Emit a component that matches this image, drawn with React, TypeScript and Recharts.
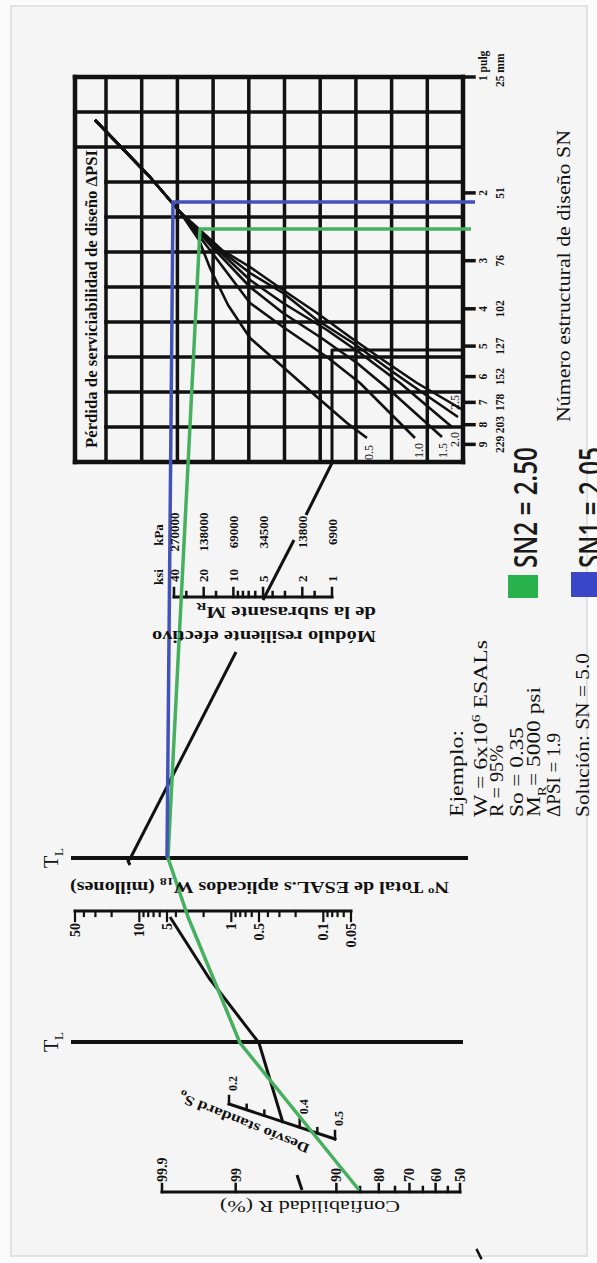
import React from "react";
import {
  ComposedChart,
  Line,
  ReferenceArea,
  ReferenceDot,
  ReferenceLine,
  XAxis,
  YAxis,
} from "recharts";

// The scan is the AASHTO nomograph turned on its side. It is drawn here in its own
// landscape orientation (sheet units) and the whole chart is turned -90deg at the end.
const SHEET_W = 1263;
const SHEET_H = 597;

// Structural number SN (log scale), inch and mm labels
const snTicks = [1, 2, 3, 4, 5, 6, 7, 8, 9];
const snInchLabels = ["1 pulg", "2", "3", "4", "5", "6", "7", "8", "9"];
const snMmLabels = ["25 mm", "51", "76", "102", "127", "152", "178", "203", "229"];

// Subgrade resilient modulus M_R in ksi (log scale)
const mrTicks = [40, 30, 20, 15, 10, 9, 8, 7, 6, 5, 4, 3, 2, 1.5, 1];
const mrKsiLabels = [40, 20, 10, 5, 2, 1];
const mrKpaLabels = ["270000", "138000", "69000", "34500", "13800", "6900"];

// W18 in millions of ESALs (log scale)
const w18Ticks = [
  50, 40, 30, 20, 10, 9, 8, 7, 6, 5, 4, 3, 2, 1, 0.9, 0.8, 0.7, 0.6, 0.5, 0.4, 0.3,
  0.2, 0.1, 0.09, 0.08, 0.07, 0.06, 0.05,
];
const w18Labels = [50, 10, 5, 1, 0.5, 0.1, 0.05];

// Reliability R (%) and its standard normal deviate
const rLabels = ["99.9", "99", "90", "80", "70", "60", "50"];
const rZ = [3.09, 2.326, 1.282, 0.842, 0.524, 0.253, 0];
const rMinorZ = [1.036, 0.674, 0.385, 0.126]; // 85, 75, 65, 55

// Overall standard deviation So
const soTicks = [0.2, 0.25, 0.3, 0.4, 0.45, 0.5];
const soLabels = [0.2, 0.4, 0.5];

// ΔPSI working grid (columns / rows)
const gridCols = [0, 1, 2, 3, 4, 5, 6, 7, 8, 9, 10, 11];
const gridRows = [0, 1, 2, 3, 4, 5, 6, 7, 8, 9, 10];
const titleRowCols = [0, 9, 10, 11];

// ΔPSI curves (sheet units)
const psiLabels = ["0.5", "1.0", "1.5", "2.0", "2.5", ""];
const psiCurves = [
  [[1143, 95], [1086, 150], [1051, 180], [1023, 199], [995, 210], [958, 228], [925, 250], [896, 283], [866, 317], [840, 347], [825, 367]],
  [[1143, 95], [1086, 150], [1051, 180], [1013, 210], [960, 250], [936, 283], [906, 327], [880, 360], [850, 390], [825, 415]],
  [[1143, 95], [1086, 150], [1051, 180], [1013, 215], [976, 250], [950, 283], [926, 320], [900, 357], [870, 393], [826, 442]],
  [[1143, 95], [1086, 150], [1051, 180], [1013, 218], [983, 250], [960, 283], [933, 327], [910, 360], [880, 400], [836, 452]],
  [[1143, 95], [1086, 150], [1051, 180], [1013, 220], [990, 250], [970, 283], [943, 317], [920, 353], [893, 390], [870, 423], [846, 458]],
  [[1143, 95], [1086, 150], [1051, 180], [1013, 222], [996, 250], [973, 283], [950, 317], [926, 350], [903, 383], [880, 417], [853, 463]],
];

// Solution paths (sheet units)
const routeSN1 = [[1061, 475], [1061, 173], [405, 167]];
const routeSN2 = [[1034, 471], [1034, 200], [405, 168], [346, 188], [220, 240], [73, 359]];
const exampleRoute = [
  [[73, 302], [88, 297]],
  [[140, 283], [220, 259], [285, 209], [346, 170]],
  [[406, 131], [402, 128], [398, 130]],
  [[406, 131], [611, 236]],
  [[663, 263], [723, 294]],
  [[748, 306], [800, 332], [913, 332], [913, 463]],
];

type Part = [string, ("sub" | "sup")?];
const exampleLines: Part[][] = [
  [["Ejemplo:"]],
  [["W = 6x10"], ["6", "sup"], ["  ESALs"]],
  [["R = 95%"]],
  [["So = 0.35"]],
  [["M"], ["R", "sub"], ["= 5000 psi"]],
  [["ΔPSI = 1.9"]],
  [["Solución: SN = 5.0"]],
];
const legendItems = ["SN2 = 2.50", "SN1 = 2.05"];

// ---- layout (sheet units) ----
const GRID_LEFT = 801;
const GRID_RIGHT = 1186;
const GRID_TITLE_TOP = 75;
const GRID_TOP = 106;
const GRID_BOTTOM = 463;
const COL_W = (GRID_RIGHT - GRID_LEFT) / 11;
const ROW_H = (GRID_BOTTOM - GRID_TOP) / 10;
const TITLE_ROW = -(GRID_TOP - GRID_TITLE_TOP) / ROW_H;
const SN_DECADE = GRID_RIGHT - GRID_LEFT;
const MR_X = 666;
const W18_X = 352;
const R_X = 71;
const TL_X = [405, 221];
const SO_A = { x: 159, y: 229 };
const SO_B = { x: 124, y: 335 };
const EX_X = 446;
const exampleBaselines = [463, 487, 503, 523, 540, 560, 589];
const exampleLengths = [87, 177, 72, 90, 130, 84, 164];
const legendBaselines = [537, 602];
const psiLabelOffsets = [[-22, 6], [-20, 8], [-21, 5], [-20, 7], [7, 1], [0, 0]];

const SERIF = '"Liberation Serif", "Times New Roman", serif';
const SANS = '"Open Sans", "Noto Sans", sans-serif';
const INK = "#111";
const BLUE = "#4352bb";
const GREEN = "#45b05d";

type Pt = { x: number; y: number };
const P = (x: number, y: number): Pt => ({ x, y });
const toPts = (arr: number[][]) => arr.map(([x, y]) => ({ x, y }));
const soPos = (v: number) => {
  const t = (v - 0.2) / 0.3;
  return P(SO_A.x + (SO_B.x - SO_A.x) * t, SO_A.y + (SO_B.y - SO_A.y) * t);
};

function seg(key: string, a: Pt, b: Pt, xAxisId = "px", yAxisId = "px", stroke = INK, width = 3) {
  return (
    <ReferenceLine
      key={key}
      xAxisId={xAxisId}
      yAxisId={yAxisId}
      segment={[a, b]}
      stroke={stroke}
      strokeWidth={width}
      strokeLinecap="square"
      ifOverflow="visible"
    />
  );
}

function poly(key: string, pts: number[][], stroke: string, width: number) {
  return (
    <Line
      key={key}
      xAxisId="px"
      yAxisId="px"
      data={toPts(pts)}
      dataKey="y"
      type="linear"
      stroke={stroke}
      strokeWidth={width}
      strokeLinejoin="round"
      dot={false}
      activeDot={false}
      legendType="none"
      isAnimationActive={false}
    />
  );
}

function note(
  key: string,
  at: Pt,
  draw: (x: number, y: number) => React.ReactElement,
  xAxisId = "px",
  yAxisId = "px"
) {
  return (
    <ReferenceDot
      key={key}
      x={at.x}
      y={at.y}
      r={0}
      xAxisId={xAxisId}
      yAxisId={yAxisId}
      ifOverflow="visible"
      shape={(p: any) => draw(p.cx, p.cy)}
    />
  );
}

function rich(parts: Part[], size: number) {
  let shift = 0;
  return parts.map(([t, kind], i) => {
    const target = kind === "sup" ? -0.4 * size : kind === "sub" ? 0.3 * size : 0;
    const dy = target - shift;
    shift = target;
    return (
      <tspan key={i} dy={dy} fontSize={kind ? size * 0.65 : size}>
        {t}
      </tspan>
    );
  });
}

const tick = { fontFamily: SERIF, fontWeight: 700, fill: INK } as const;

export default function App() {
  return (
    <div
      style={{
        position: "absolute",
        left: 0,
        top: 0,
        width: 597,
        height: 1263,
        background: "#fbfbfb",
        overflow: "hidden",
      }}
    >
      <div
        style={{
          position: "absolute",
          left: 10,
          top: 5,
          width: 578,
          height: 1252,
          boxSizing: "border-box",
          border: "2px solid #e2e2e2",
          background: "#f5f5f5",
        }}
      />
      <div
        style={{
          position: "absolute",
          left: 0,
          top: 0,
          width: SHEET_W,
          height: SHEET_H,
          transformOrigin: "0 0",
          transform: `translateY(${SHEET_W}px) rotate(-90deg)`,
        }}
      >
        <ComposedChart width={SHEET_W} height={SHEET_H} margin={{ top: 0, right: 0, bottom: 0, left: 0 }}>
          <XAxis xAxisId="px" type="number" dataKey="x" domain={[0, SHEET_W]} allowDataOverflow hide />
          <YAxis yAxisId="px" type="number" dataKey="y" domain={[0, SHEET_H]} reversed allowDataOverflow hide />
          {/* ΔPSI grid in column / row units */}
          <XAxis
            xAxisId="gx"
            type="number"
            dataKey="gx"
            domain={[-GRID_LEFT / COL_W, (SHEET_W - GRID_LEFT) / COL_W]}
            allowDataOverflow
            hide
          />
          <YAxis
            yAxisId="gy"
            type="number"
            dataKey="gy"
            domain={[-GRID_TOP / ROW_H, (SHEET_H - GRID_TOP) / ROW_H]}
            reversed
            allowDataOverflow
            hide
          />
          {/* SN: 1 at the grid's right border, 10 at its left border */}
          <XAxis
            xAxisId="sn"
            type="number"
            dataKey="sn"
            scale="log"
            domain={[Math.pow(10, -(SHEET_W - GRID_RIGHT) / SN_DECADE), Math.pow(10, GRID_RIGHT / SN_DECADE)]}
            reversed
            allowDataOverflow
            hide
          />
          <YAxis
            yAxisId="mr"
            type="number"
            dataKey="mr"
            scale="log"
            domain={[1, 40]}
            padding={{ top: 174, bottom: SHEET_H - 332 }}
            allowDataOverflow
            hide
          />
          <YAxis
            yAxisId="w18"
            type="number"
            dataKey="w18"
            scale="log"
            domain={[0.05, 50]}
            padding={{ top: 75, bottom: SHEET_H - 351 }}
            allowDataOverflow
            hide
          />
          <YAxis
            yAxisId="zr"
            type="number"
            dataKey="zr"
            domain={[0, 3.09]}
            padding={{ top: 162, bottom: SHEET_H - 460 }}
            allowDataOverflow
            hide
          />

          {/* ΔPSI grid */}
          {gridCols.map((c) =>
            seg(`gc${c}`, P(c, titleRowCols.includes(c) ? TITLE_ROW : 0), P(c, 10), "gx", "gy", INK, c === 0 || c === 11 ? 4.5 : 3.5)
          )}
          {[TITLE_ROW, ...gridRows].map((r, i) =>
            seg(`gr${i}`, P(0, r), P(11, r), "gx", "gy", INK, r === TITLE_ROW || r === 10 ? 4.5 : 3.5)
          )}

          {/* SN scale */}
          {snTicks.map((v, i) => seg(`snt${i}`, P(v, GRID_BOTTOM), P(v, GRID_BOTTOM + 11), "sn", "px", INK, 3.5))}
          {snTicks.map((v, i) =>
            note(
              `sni${i}`,
              P(v, 487),
              (x, y) => (
                <text x={i === 0 ? x - 4 : x} y={y} textAnchor={i === 0 ? "start" : "middle"} fontSize={11.5} {...tick}>
                  {snInchLabels[i]}
                </text>
              ),
              "sn",
              "px"
            )
          )}
          {snTicks.map((v, i) =>
            note(
              `snm${i}`,
              P(v, 504),
              (x, y) => (
                <text x={i === 0 ? x - 10 : x} y={y} textAnchor={i === 0 ? "start" : "middle"} fontSize={11.5} {...tick}>
                  {snMmLabels[i]}
                </text>
              ),
              "sn",
              "px"
            )
          )}

          {/* M_R scale */}
          {seg("mraxis", P(MR_X, 40), P(MR_X, 1), "px", "mr", INK, 3)}
          {mrTicks.map((v, i) =>
            seg(`mrt${i}`, P(MR_X, v), P(MR_X + (mrKsiLabels.includes(v) ? 9 : 5), v), "px", "mr", INK, 2.5)
          )}
          {mrKsiLabels.map((v, i) =>
            note(
              `mrk${i}`,
              P(681, v),
              (x, y) => (
                <text x={x} y={y + 4.5} textAnchor="start" fontSize={13} {...tick}>
                  {v}
                </text>
              ),
              "px",
              "mr"
            )
          )}
          {mrKpaLabels.map((t, i) =>
            note(
              `mrp${i}`,
              P(731, mrKsiLabels[i]),
              (x, y) => (
                <text x={x} y={y + 4.5} textAnchor="middle" fontSize={13} {...tick}>
                  {t}
                </text>
              ),
              "px",
              "mr"
            )
          )}
          {note("ksi", P(678, 163), (x, y) => (
            <text x={x} y={y} fontSize={13} {...tick}>ksi</text>
          ))}
          {note("kpa", P(728, 163), (x, y) => (
            <text x={x} y={y} textAnchor="middle" fontSize={13} {...tick}>kPa</text>
          ))}

          {/* W18 scale */}
          {seg("w18axis", P(W18_X, 50), P(W18_X, 0.05), "px", "w18", INK, 3)}
          {w18Ticks.map((v, i) =>
            seg(`w18t${i}`, P(W18_X, v), P(W18_X - (w18Labels.includes(v) ? 10 : 5), v), "px", "w18", INK, 2.2)
          )}
          {w18Labels.map((v, i) =>
            note(
              `w18l${i}`,
              P(340, v),
              (x, y) => (
                <text x={x} y={y + 5} textAnchor="end" fontSize={14} {...tick}>
                  {v}
                </text>
              ),
              "px",
              "w18"
            )
          )}

          {/* T_L turning lines */}
          {TL_X.map((x, i) => seg(`tl${i}`, P(x, 73), P(x, i === 0 ? 466 : 461), "px", "px", INK, 4))}
          {TL_X.map((x, i) =>
            note(`tll${i}`, P(x, 58), (cx, cy) => (
              <text x={cx} y={cy} textAnchor="middle" fontFamily={SERIF} fontSize={20} fill={INK}>
                T<tspan fontSize={13} dy={5}>L</tspan>
              </text>
            ))
          )}

          {/* So scale */}
          {seg("soaxis", SO_A, SO_B, "px", "px", INK, 3)}
          {soTicks.map((v, i) => {
            const p = soPos(v);
            return seg(`sot${i}`, p, P(p.x + (soLabels.includes(v) ? 8 : 5), p.y), "px", "px", INK, 2.5);
          })}
          {soLabels.map((v, i) =>
            note(`sol${i}`, soPos(v), (x, y) => (
              <text x={x + 13} y={y + 8} fontSize={12} {...tick}>
                {v}
              </text>
            ))
          )}
          {note("sotitle", P(140, 244), (x, y) => (
            <text
              x={x}
              y={y}
              textAnchor="middle"
              dominantBaseline="central"
              transform={`rotate(-68 ${x} ${y})`}
              fontSize={14}
              textLength={140}
              lengthAdjust="spacingAndGlyphs"
              {...tick}
            >
              Desvío standard S<tspan fontSize={10} dy={4}>o</tspan>
            </text>
          ))}

          {/* R scale */}
          {seg("raxis", P(R_X, 3.09), P(R_X, 0), "px", "zr", INK, 3)}
          {rZ.map((z, i) => seg(`rt${i}`, P(R_X, z), P(R_X + 8, z), "px", "zr", INK, 2.5))}
          {rMinorZ.map((z, i) => seg(`rm${i}`, P(R_X, z), P(R_X + 5, z), "px", "zr", INK, 2.5))}
          {rZ.map((z, i) =>
            note(
              `rl${i}`,
              P(81, z),
              (x, y) => (
                <text x={x} y={y + 5} fontSize={14} {...tick}>
                  {rLabels[i]}
                </text>
              ),
              "px",
              "zr"
            )
          )}

          {/* ΔPSI curves */}
          {psiCurves.map((c, i) => poly(`psi${i}`, c, INK, 2.6))}
          {psiCurves.map((c, i) => {
            const end = c[c.length - 1];
            const [dx, dy] = psiLabelOffsets[i];
            return psiLabels[i]
              ? note(`psil${i}`, P(end[0] + dx, end[1] + dy), (x, y) => (
                  <text x={x} y={y} fontFamily={SERIF} fontSize={12} fill={INK}>
                    {psiLabels[i]}
                  </text>
                ))
              : null;
          })}

          {/* worked example (black) */}
          {exampleRoute.map((r, i) => poly(`ex${i}`, r, INK, 3))}
          {seg("stray", P(13, 477), P(5, 481), "px", "px", INK, 2.5)}

          {/* SN1 / SN2 solutions */}
          {poly("sn2", routeSN2, GREEN, 3.5)}
          {poly("sn1", routeSN1, BLUE, 3.5)}

          {/* titles */}
          {note("psititle", P(815, 97), (x, y) => (
            <text x={x} y={y} fontSize={17} textLength={298} lengthAdjust="spacingAndGlyphs" {...tick}>
              Pérdida de serviciabilidad de diseño ΔPSI
            </text>
          ))}
          {note("sntitle", P(841, 570), (x, y) => (
            <text x={x} y={y} fontFamily={SERIF} fontSize={18} fill={INK} textLength={292} lengthAdjust="spacingAndGlyphs">
              Número estructural de diseño SN
            </text>
          ))}
          {note("mrtitle1", P(632, 376), (x, y) => (
            <text x={x} y={y} transform={`rotate(-90 ${x} ${y})`} fontSize={16} textLength={224} lengthAdjust="spacingAndGlyphs" {...tick}>
              Módulo resiliente efectivo
            </text>
          ))}
          {note("mrtitle2", P(656, 376), (x, y) => (
            <text x={x} y={y} transform={`rotate(-90 ${x} ${y})`} fontSize={16} textLength={180} lengthAdjust="spacingAndGlyphs" {...tick}>
              de la subrasante  M<tspan fontSize={11} dy={4}>R</tspan>
            </text>
          ))}
          {note("w18title", P(381, 449), (x, y) => (
            <text x={x} y={y} transform={`rotate(-90 ${x} ${y})`} fontSize={16} textLength={379} lengthAdjust="spacingAndGlyphs" {...tick}>
              Nº Total de ESAL.s aplicados W<tspan fontSize={11} dy={4}>18</tspan>
              <tspan dy={-4}> (millones)</tspan>
            </text>
          ))}
          {note("rtitle", P(62, 400), (x, y) => (
            <text x={x} y={y} transform={`rotate(-90 ${x} ${y})`} fontFamily={SERIF} fontSize={17} fill={INK} textLength={180} lengthAdjust="spacingAndGlyphs">
              Confiabilidad  R  (%)
            </text>
          ))}

          {/* example block */}
          {exampleLines.map((parts, i) =>
            note(`exl${i}`, P(EX_X, exampleBaselines[i]), (x, y) => (
              <text x={x} y={y} fontFamily={SERIF} fill={INK} textLength={exampleLengths[i]} lengthAdjust="spacingAndGlyphs">
                {rich(parts, 18.5)}
              </text>
            ))
          )}

          {/* legend */}
          <ReferenceArea xAxisId="px" yAxisId="px" x1={665} x2={688} y1={508} y2={538} fill="#29b24c" fillOpacity={1} stroke="none" ifOverflow="visible" />
          <ReferenceArea xAxisId="px" yAxisId="px" x1={666} x2={691} y1={571} y2={600} fill="#3b45c8" fillOpacity={1} stroke="none" ifOverflow="visible" />
          {legendItems.map((t, i) =>
            note(`lg${i}`, P(695, legendBaselines[i]), (x, y) => (
              <text x={x} y={y} fontFamily={SANS} fontWeight={600} fontSize={32} fill="#1a1a1a" textLength={121} lengthAdjust="spacingAndGlyphs">
                {t}
              </text>
            ))
          )}
        </ComposedChart>
      </div>
    </div>
  );
}
